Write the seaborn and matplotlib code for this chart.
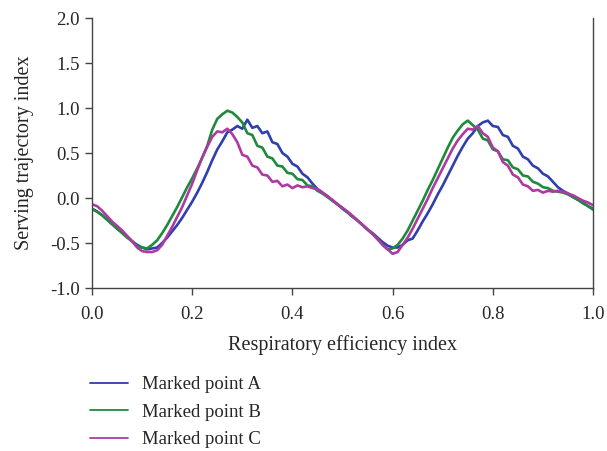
import numpy as np
import pandas as pd
import matplotlib
matplotlib.use("Agg")
import matplotlib.pyplot as plt
import seaborn as sns

# =========================
# DATA
# =========================

x_vals = [round(i * 0.01, 2) for i in range(101)]

point_a = [
    -0.12, -0.15, -0.19, -0.24, -0.29, -0.34, -0.38, -0.43, -0.48, -0.52,
    -0.55, -0.57, -0.56, -0.55, -0.50, -0.44, -0.37, -0.30, -0.22, -0.13,
    -0.04, 0.06, 0.17, 0.29, 0.42, 0.54, 0.63, 0.73, 0.76, 0.80,
    0.77, 0.87, 0.78, 0.80, 0.72, 0.74, 0.62, 0.60, 0.50, 0.46,
    0.38, 0.35, 0.27, 0.23, 0.16, 0.10, 0.06, 0.02, -0.03, -0.07,
    -0.12, -0.16, -0.21, -0.25, -0.30, -0.35, -0.39, -0.44, -0.49, -0.53,
    -0.55, -0.55, -0.52, -0.47, -0.45, -0.36, -0.26, -0.17, -0.07, 0.04,
    0.14, 0.25, 0.36, 0.47, 0.57, 0.66, 0.72, 0.80, 0.84, 0.86,
    0.80, 0.79, 0.70, 0.68, 0.58, 0.55, 0.46, 0.43, 0.36, 0.33,
    0.27, 0.24, 0.18, 0.12, 0.08, 0.05, 0.01, -0.02, -0.05, -0.09,
    -0.12,
]

point_b = [
    -0.12, -0.15, -0.19, -0.24, -0.29, -0.34, -0.39, -0.44, -0.48, -0.53,
    -0.55, -0.56, -0.52, -0.47, -0.39, -0.30, -0.20, -0.10, 0.01, 0.12,
    0.22, 0.33, 0.45, 0.58, 0.76, 0.88, 0.93, 0.97, 0.95, 0.90,
    0.84, 0.72, 0.70, 0.58, 0.56, 0.46, 0.44, 0.36, 0.35, 0.28,
    0.27, 0.21, 0.20, 0.14, 0.13, 0.08, 0.05, 0.01, -0.03, -0.07,
    -0.11, -0.16, -0.20, -0.25, -0.30, -0.35, -0.40, -0.45, -0.52, -0.57,
    -0.56, -0.52, -0.45, -0.36, -0.25, -0.14, -0.03, 0.09, 0.20, 0.32,
    0.44, 0.56, 0.67, 0.75, 0.82, 0.86, 0.81, 0.76, 0.66, 0.64,
    0.54, 0.52, 0.43, 0.42, 0.34, 0.32, 0.25, 0.24, 0.18, 0.16,
    0.12, 0.11, 0.08, 0.07, 0.06, 0.04, 0.01, -0.02, -0.06, -0.09,
    -0.13,
]

point_c = [
    -0.07, -0.09, -0.14, -0.20, -0.26, -0.31, -0.36, -0.42, -0.48, -0.55,
    -0.59, -0.60, -0.60, -0.58, -0.52, -0.42, -0.32, -0.21, -0.10, 0.03,
    0.16, 0.31, 0.45, 0.57, 0.68, 0.74, 0.73, 0.77, 0.71, 0.62,
    0.48, 0.46, 0.36, 0.34, 0.26, 0.25, 0.18, 0.19, 0.13, 0.15,
    0.11, 0.14, 0.12, 0.13, 0.11, 0.10, 0.06, 0.02, -0.02, -0.07,
    -0.11, -0.15, -0.20, -0.25, -0.30, -0.35, -0.40, -0.46, -0.52, -0.57,
    -0.62, -0.60, -0.52, -0.44, -0.34, -0.23, -0.12, -0.01, 0.11, 0.22,
    0.33, 0.44, 0.55, 0.64, 0.71, 0.77, 0.76, 0.80, 0.72, 0.68,
    0.56, 0.52, 0.40, 0.36, 0.26, 0.23, 0.15, 0.13, 0.08, 0.09,
    0.06, 0.08, 0.07, 0.08, 0.07, 0.05, 0.03, 0.00, -0.03, -0.05,
    -0.08,
]

labels = ["Marked point A", "Marked point B", "Marked point C"]
colors = ["#2f3fae", "#1f8a3c", "#ad3aa3"]

x_ticks = [0.0, 0.2, 0.4, 0.6, 0.8, 1.0]
y_ticks = [-1.0, -0.5, 0.0, 0.5, 1.0, 1.5, 2.0]

# =========================
# LONG FORM TABLE
# =========================

df = pd.concat([
    pd.DataFrame({"x": x_vals, "y": vals, "series": lab})
    for vals, lab in zip([point_a, point_b, point_c], labels)
])

# =========================
# PLOT
# =========================

sns.set_style("ticks")
plt.rcParams["font.family"] = ["Liberation Serif", "DejaVu Serif"]

fig = plt.figure(figsize=(6.07, 4.51), dpi=100)
ax = fig.add_axes([0.1516, 0.3614, 0.8254, 0.5986])

sns.lineplot(
    data=df,
    x="x",
    y="y",
    hue="series",
    palette=dict(zip(labels, colors)),
    linewidth=1.9,
    ax=ax,
    legend=False
)

ax.set_xlim(0, 1)
ax.set_ylim(-1.0, 2.0)
ax.set_xticks(x_ticks)
ax.set_xticklabels([f"{t:.1f}" for t in x_ticks])
ax.set_yticks(y_ticks)
ax.set_yticklabels([f"{t:.1f}" for t in y_ticks])

ax.tick_params(labelsize=13.5, direction="out", length=5, width=1,
               color="#444444", pad=4)
ax.tick_params(axis="x", pad=8)

ax.set_xlabel("Respiratory efficiency index", fontsize=14.5, labelpad=9)
ax.set_ylabel("Serving trajectory index", fontsize=14.5, labelpad=11)

for side in ["left", "bottom", "right"]:
    ax.spines[side].set_color("#444444")
    ax.spines[side].set_linewidth(1.0)
ax.spines["top"].set_visible(False)

handles = [plt.Line2D([], [], color=c, linewidth=1.3) for c in colors]
fig.legend(
    handles,
    labels,
    loc="upper left",
    bbox_to_anchor=(0.149, 0.166),
    frameon=False,
    fontsize=13.5,
    handlelength=2.0,
    handletextpad=0.75,
    labelspacing=0.55,
    borderpad=0,
    borderaxespad=0
)

fig.savefig("out.png", dpi=100)
